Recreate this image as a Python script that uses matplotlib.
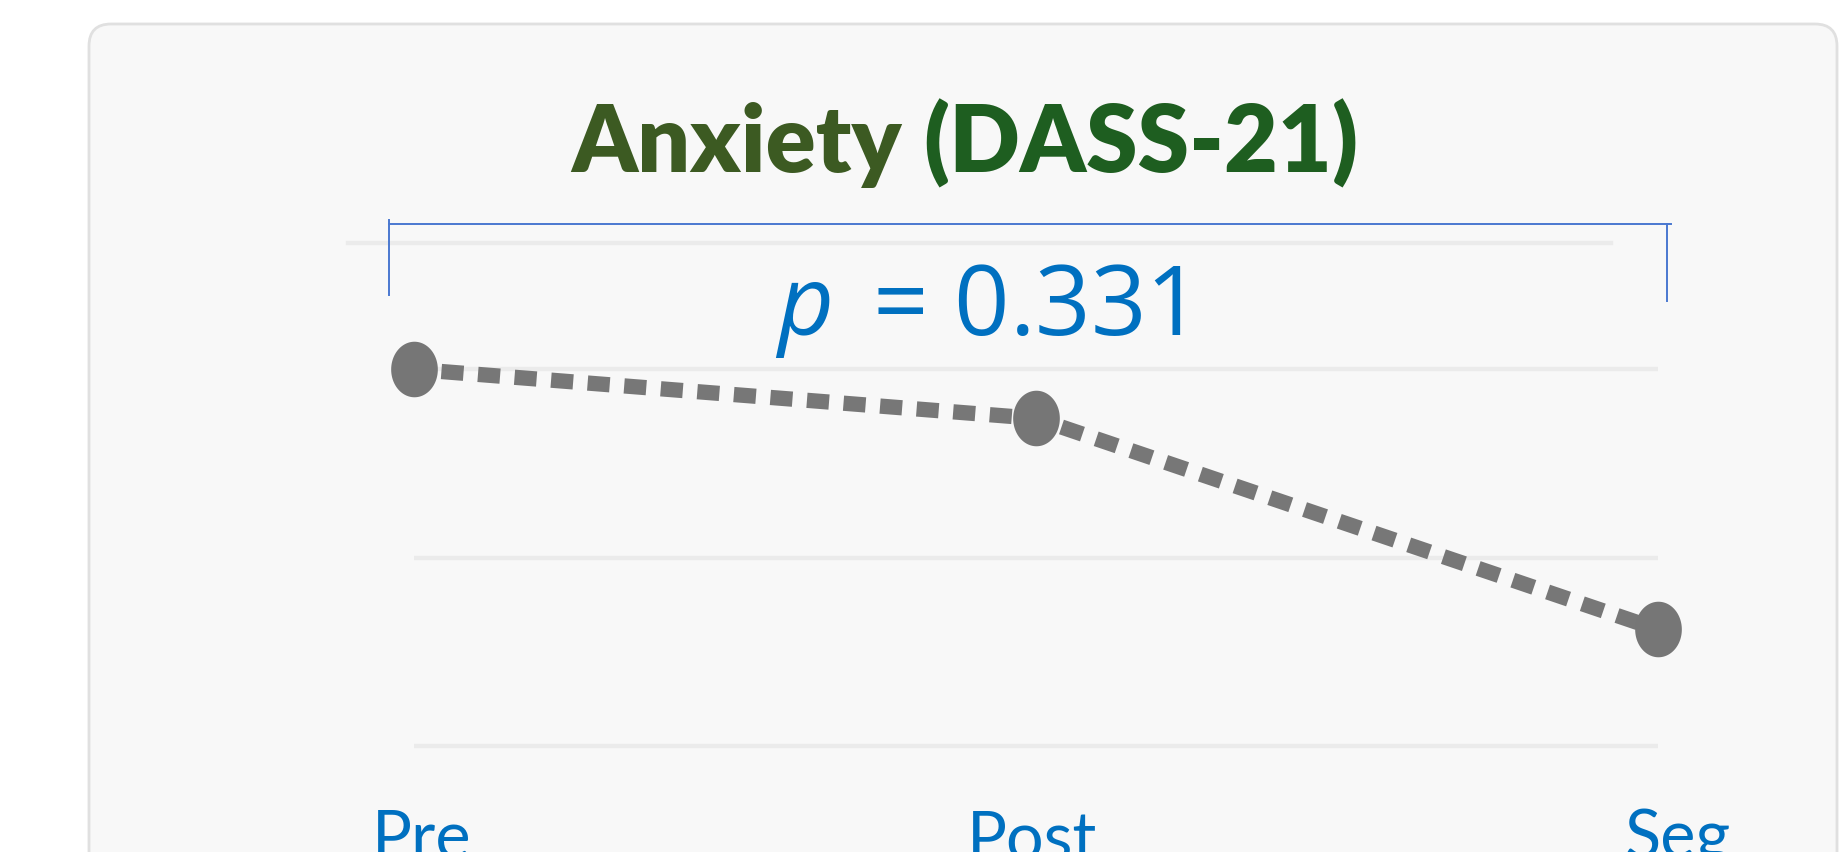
import matplotlib
matplotlib.use('Agg')
import matplotlib.pyplot as plt
import matplotlib.transforms as mtransforms
from matplotlib.patches import FancyBboxPatch
from matplotlib.path import Path
import numpy as np

# ---------------- data ----------------
categories = ['Pre', 'Post', 'Seg']
scores = [6.0, 5.48, 3.24]
grid_values = [2, 4, 6]
title_main = 'Anxiety'
title_sub = '(DASS-21)'
p_label = r'$p\,$ = 0.331'

# ---------------- style ----------------
plt.rcParams['font.family'] = ['Lato', 'DejaVu Sans']
plt.rcParams['mathtext.fontset'] = 'custom'
plt.rcParams['mathtext.it'] = 'Open Sans:italic'
plt.rcParams['mathtext.rm'] = 'Open Sans'

W, H, DPI = 1839, 852, 100
fig = plt.figure(figsize=(W / DPI, H / DPI), dpi=DPI)
fig.patch.set_facecolor('white')

# rounded card panel
panel = FancyBboxPatch((89, -60), 1837 - 89, 828 + 60,
                       boxstyle='round,pad=0,rounding_size=22',
                       transform=mtransforms.IdentityTransform(),
                       facecolor='#f8f8f8', edgecolor='#e0e0e0', linewidth=2, zorder=0)
fig.add_artist(panel)

ax = fig.add_axes([414 / W, 1 - 784 / H, 1244 / W, (784 - 228) / H])
ax.set_xlim(0, 2)
ax.set_ylim(1.6, 7.5)
ax.patch.set_visible(False)
for s in ax.spines.values():
    s.set_visible(False)

ax.set_yticks(grid_values)
ax.tick_params(axis='y', left=False, labelleft=False)
ax.yaxis.grid(True, color='#ebebeb', linewidth=3.2)
ax.set_axisbelow(True)

ax.set_xticks(range(len(categories)), categories)
ax.tick_params(axis='x', length=0, pad=18.0, labelsize=48, labelcolor='#0070c0')
label_dx_px = [8, -4, 20]
for lab, dx in zip(ax.get_xticklabels(), label_dx_px):
    lab.set_transform(lab.get_transform() +
                      mtransforms.ScaledTranslation(dx / DPI, 0, fig.dpi_scale_trans))

# faint extra guide line near the top (decorative)
ax.plot([-0.106, 1.924], [7.34, 7.34], color='#ebebeb', lw=3.2, clip_on=False, zorder=0.5)

# ellipse marker
theta = np.linspace(0, 2 * np.pi, 120)
ell = Path(np.column_stack([0.84 * np.cos(theta), np.sin(theta)]), closed=True)

ax.plot(range(len(categories)), scores, color='#777777', lw=11,
        linestyle=(0.6, (1.45, 0.95)), dash_capstyle='butt',
        marker=ell, markersize=40, markerfacecolor='#767676',
        markeredgewidth=0, clip_on=False, zorder=3)

# significance bracket
bc = '#4a78d0'
ax.plot([-0.040, 2.021], [7.54, 7.54], color=bc, lw=1.4, clip_on=False)
ax.plot([-0.040, -0.040], [7.58, 6.79], color=bc, lw=1.4, clip_on=False)
ax.plot([2.015, 2.015], [7.54, 6.73], color=bc, lw=1.4, clip_on=False)

ax.text(0.907, 6.364, p_label, fontsize=70, color='#0070c0',
        family=['Open Sans', 'DejaVu Sans'], ha='center', va='baseline')

# two-coloured title
ty = 1 - 172 / H
cx = 965
tkw = dict(fontsize=67, fontweight='heavy', va='baseline')
r = fig.canvas.get_renderer()
full = fig.text(0, ty, title_main + ' ' + title_sub, **tkw)
wt = full.get_window_extent(r).width
full.remove()
t2 = fig.text(0, ty, title_sub, **tkw)
w2 = t2.get_window_extent(r).width
x0 = cx - wt / 2
fig.text(x0 / W, ty, title_main, color='#3c5a22', ha='left', **tkw)
t2.set_position(((x0 + wt - w2) / W, ty))
t2.set_color('#1e5e20')

fig.savefig('out.png', dpi=DPI, facecolor='white')
